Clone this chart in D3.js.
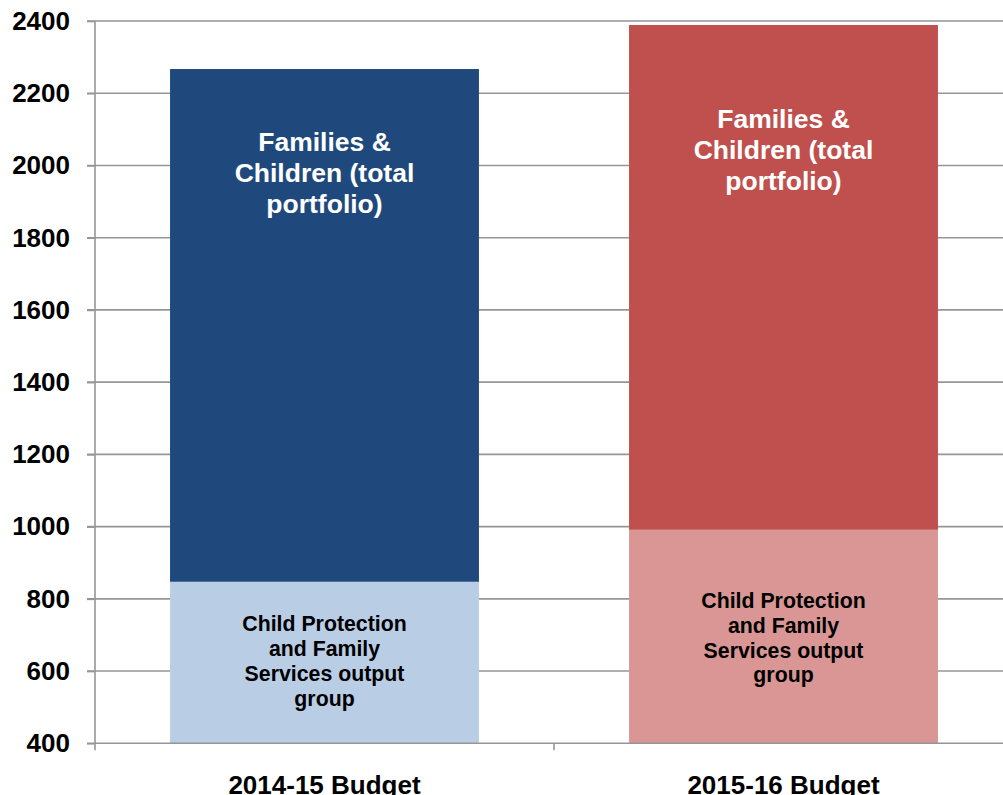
<!DOCTYPE html>
<html>
<head>
<meta charset="utf-8">
<script src="https://cdn.jsdelivr.net/npm/d3@7"></script>
<style>
  body { margin: 0; background: #fff; }
  svg { display: block; font-family: "Liberation Sans", Arial, sans-serif; font-weight: bold; }
</style>
</head>
<body>
<svg id="chart" width="1003" height="795"></svg>
<script>
// data
var categories = ["2014-15 Budget", "2015-16 Budget"];
var groupValues = [847, 991];        // Child Protection and Family Services output group
var totalValues = [2267, 2389];      // Families & Children (total portfolio)
var yTicks = [400, 600, 800, 1000, 1200, 1400, 1600, 1800, 2000, 2200, 2400];
var topLabel = ["Families &", "Children (total", "portfolio)"];
var bottomLabel = ["Child Protection", "and Family", "Services output", "group"];
// label centres, in chart units
var topLabelAt = [1980, 2043];
var bottomLabelAt = [628, 692];

var darkColors = ["#1F497D", "#C0504D"],
    lightColors = ["#B9CDE5", "#D99694"];

var svg = d3.select("#chart");
// plot box (note: "top" is a reserved window prop, so keep names prefixed)
var plot_left = 95, plot_right = 1013, plot_top = 21, plot_bottom = 743.3;

var y = d3.scaleLinear().domain([400, 2400]).range([plot_bottom, plot_top]);
var x = d3.scaleBand().domain(categories).range([plot_left, plot_right]).paddingInner(0.327).paddingOuter(0.1635);

// gridlines
svg.append("g").selectAll("line").data(yTicks.slice(1)).enter().append("line")
    .attr("x1", plot_left - 8).attr("x2", 1003)
    .attr("y1", function (d) { return y(d); }).attr("y2", function (d) { return y(d); })
    .attr("stroke", "#969696").attr("stroke-width", 1.6);

// bars
var bars = svg.append("g");
bars.selectAll("rect.total").data(categories).enter().append("rect")
    .attr("class", "total")
    .attr("x", function (d) { return x(d); })
    .attr("width", x.bandwidth())
    .attr("y", function (d, i) { return y(totalValues[i]); })
    .attr("height", function (d, i) { return y(groupValues[i]) - y(totalValues[i]); })
    .attr("fill", function (d, i) { return darkColors[i]; });
bars.selectAll("rect.group").data(categories).enter().append("rect")
    .attr("class", "group")
    .attr("x", function (d) { return x(d); })
    .attr("width", x.bandwidth())
    .attr("y", function (d, i) { return y(groupValues[i]); })
    .attr("height", function (d, i) { return y(400) - y(groupValues[i]); })
    .attr("fill", function (d, i) { return lightColors[i]; });

// axes
var yAxis = svg.append("g").attr("transform", `translate(${plot_left},0)`)
    .call(d3.axisLeft(y).tickValues(yTicks).tickSize(8).tickPadding(17).tickFormat(d3.format("d")));
yAxis.select(".domain").attr("stroke", "#969696").attr("stroke-width", 1.6).attr("d", `M0,${plot_top}V${plot_bottom}`);
yAxis.selectAll(".tick line").attr("stroke", "#969696").attr("stroke-width", 1.6);
yAxis.selectAll(".tick text").attr("font-size", 26).attr("fill", "#000").attr("font-family", "Liberation Sans, Arial, sans-serif").attr("font-weight", "bold");

var xAxis = svg.append("g").attr("transform", `translate(0,${plot_bottom})`);
xAxis.append("line").attr("x1", plot_left - 8).attr("x2", 1003).attr("stroke", "#969696").attr("stroke-width", 1.6);
xAxis.selectAll("line.tk").data([plot_left, (plot_left + plot_right) / 2, plot_right]).enter().append("line")
    .attr("class", "tk").attr("x1", function (d) { return d; }).attr("x2", function (d) { return d; })
    .attr("y1", 0).attr("y2", 7).attr("stroke", "#969696").attr("stroke-width", 1.6);
xAxis.selectAll("text").data(categories).enter().append("text")
    .attr("x", function (d) { return x(d) + x.bandwidth() / 2; })
    .attr("y", 51).attr("text-anchor", "middle").attr("font-size", 26).attr("fill", "#000")
    .text(function (d) { return d; });

// data labels
categories.forEach(function (c, i) {
    var cx = x(c) + x.bandwidth() / 2;
    var t = svg.append("text").attr("text-anchor", "middle").attr("font-size", 26.5).attr("fill", "#fff");
    var lh = 31, y0 = y(topLabelAt[i]) - lh + 9;
    topLabel.forEach(function (s, j) {
        t.append("tspan").attr("x", cx).attr("y", y0 + j * lh).text(s);
    });
    var b = svg.append("text").attr("text-anchor", "middle").attr("font-size", 21.3).attr("fill", "#000");
    var bh = 24.7, b0 = y(bottomLabelAt[i]) - 1.5 * bh + 7.5;
    bottomLabel.forEach(function (s, j) {
        b.append("tspan").attr("x", cx).attr("y", b0 + j * bh).text(s);
    });
});
</script>
</body>
</html>
